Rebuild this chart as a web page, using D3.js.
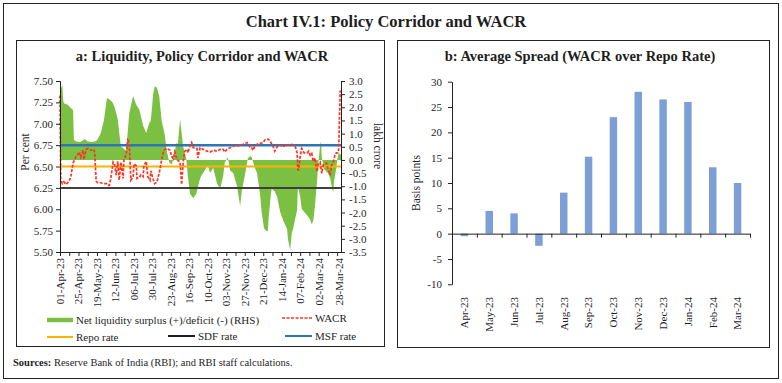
<!DOCTYPE html>
<html><head><meta charset="utf-8">
<script src="https://cdn.jsdelivr.net/npm/d3@7"></script>
<style>
html,body{margin:0;padding:0;background:#fff;}
svg text{font-family:"Liberation Serif","Times New Roman",serif;fill:#1e1e1e;}
</style></head>
<body>
<svg id="chart" width="782" height="383"></svg>
<script>
// ---------- DATA ----------
// Panel a: day offsets from 01-Apr-2023 and values
const liqDays = [0,3,4,5,10,14,17,18,21,26,30,32,36,42,47,49,53,57,61,64,68,71,75,79,83,86,90,95,99,103,108,112,116,118,121,123,126,129,132,136,139,142,145,148,151,153,156,160,164,166,169,173,177,181,183,188,192,195,199,204,208,212,214,218,221,225,230,234,236,240,244,247,249,253,256,260,262,265,268,270,271,274,275,279,282,286,290,295,296,299,301,303,305,308,309,312,314,321,325,327,329,331,334,335,338,339,340,343,348,351,353,355,356,359,360,362,365];
const liquidity = [2.6,2.87,2.3,2.15,2.1,1.97,1.9,0.77,0.7,0.68,0.75,0.8,0.7,0.68,0.72,0.8,1.02,1.5,2.35,2.3,2.2,2.0,1.55,0.51,0.42,0.35,1.78,2.43,2.1,1.92,1.3,1.02,1.4,1.5,2.5,2.8,2.74,2.4,1.5,0.97,0.3,-0.1,-0.17,0.1,0.64,0.6,1.55,0.5,0.05,-0.6,-1.3,-1.45,-1.3,-0.8,-0.63,-0.4,-0.2,-0.5,-0.3,-0.9,-1.1,-0.6,-0.1,0.1,-0.4,-0.5,-1.0,-1.75,-1.2,-0.6,0.05,0.15,0.1,-0.3,-0.5,-1.35,-2.0,-2.6,-2.7,-2.7,-2.2,-1.3,-1.1,-1.2,-1.4,-1.98,-2.3,-2.63,-3.0,-3.42,-2.8,-2.6,-2.3,-1.9,-1.0,-1.4,-1.87,-2.1,-2.27,-2.45,-2.3,-1.8,-0.75,-0.3,0.6,0.7,0.1,-0.35,-0.5,-0.7,-1.0,-1.25,-0.8,-0.3,0.0,0.25,0.2];

const wacrDays = [0,1,3,5,8,12,14,17,19,21,23,25,27,30,31,34,36,40,44,45,47,49,53,57,60,62,64,66,69,71,73,75,77,79,82,83,86,88,90,92,95,96,99,100,103,105,108,109,112,114,117,118,121,123,126,130,132,134,136,139,143,145,147,149,152,156,158,160,162,165,166,169,171,173,178,179,182,186,191,195,199,204,208,212,214,217,221,225,230,234,238,243,247,249,251,253,256,260,264,266,270,273,275,277,279,282,286,290,292,296,301,305,308,309,310,312,314,317,321,323,325,327,329,331,334,335,338,340,342,346,348,351,353,355,357,359,361,362,364];
const wacr = [7.33,6.35,6.30,6.32,6.29,6.33,6.38,6.54,6.58,6.62,6.64,6.67,6.61,6.69,6.58,6.70,6.71,6.69,6.70,6.66,6.33,6.31,6.31,6.30,6.30,6.28,6.28,6.36,6.55,6.52,6.40,6.56,6.34,6.55,6.36,6.58,6.64,6.81,6.78,6.34,6.38,6.53,6.51,6.36,6.37,6.40,6.38,6.51,6.56,6.38,6.34,6.45,6.35,6.30,6.32,6.47,6.58,6.66,6.70,6.71,6.69,6.62,6.59,6.67,6.58,6.55,6.29,6.55,6.68,6.70,6.66,6.74,6.78,6.72,6.71,6.60,6.72,6.70,6.68,6.67,6.69,6.68,6.70,6.70,6.67,6.70,6.72,6.74,6.74,6.75,6.76,6.78,6.72,6.72,6.69,6.74,6.76,6.77,6.78,6.81,6.82,6.80,6.76,6.73,6.68,6.73,6.75,6.73,6.75,6.75,6.76,6.75,6.66,6.46,6.46,6.62,6.71,6.66,6.66,6.68,6.63,6.65,6.56,6.60,6.44,6.52,6.55,6.42,6.52,6.54,6.48,6.40,6.52,6.55,6.63,6.66,6.66,6.70,7.39];

const policyDays = [0,365];
const repoRate = [6.50,6.50];
const sdfRate = [6.25,6.25];
const msfRate = [6.75,6.75];

const xTickDays = [0,24,48,72,96,120,144,168,192,216,240,264,288,312,336,362];
const xTickLabels = ["01-Apr-23","25-Apr-23","19-May-23","12-Jun-23","06-Jul-23","30-Jul-23","23-Aug-23","16-Sep-23","10-Oct-23","03-Nov-23","27-Nov-23","21-Dec-23","14-Jan-24","07-Feb-24","02-Mar-24","28-Mar-24"];
const leftTicks = [5.50,5.75,6.00,6.25,6.50,6.75,7.00,7.25,7.50];
const rightTicks = [-3.5,-3.0,-2.5,-2.0,-1.5,-1.0,-0.5,0.0,0.5,1.0,1.5,2.0,2.5,3.0];

// Panel b
const months = ["Apr-23","May-23","Jun-23","Jul-23","Aug-23","Sep-23","Oct-23","Nov-23","Dec-23","Jan-24","Feb-24","Mar-24"];
const spread = [-0.5,4.5,4.0,-2.4,8.1,15.2,23.0,28.0,26.5,26.0,13.1,10.0];
const spreadTicks = [-10,-5,0,5,10,15,20,25,30];

// ---------- DRAW ----------
const svg = d3.select("#chart");
const ink = "#222";
const toDate = d => new Date(2023, 3, 1 + d);

svg.append("rect").attr("x",3.5).attr("y",3.5).attr("width",775).attr("height",375)
  .attr("fill","none").attr("stroke",ink).attr("stroke-width",1);
svg.append("text").attr("x",386).attr("y",27).attr("text-anchor","middle")
  .style("font-size","16.5px").style("font-weight","bold").text("Chart IV.1: Policy Corridor and WACR");
svg.append("rect").attr("x",16.5).attr("y",40.5).attr("width",368).attr("height",306)
  .attr("fill","none").attr("stroke",ink);
svg.append("rect").attr("x",397.5).attr("y",40.5).attr("width",372).attr("height",307)
  .attr("fill","none").attr("stroke",ink);
const src = svg.append("text").attr("x",13).attr("y",366).style("font-size","10.5px");
src.append("tspan").style("font-weight","bold").text("Sources:");
src.append("tspan").text(" Reserve Bank of India (RBI); and RBI staff calculations.");

// ----- Panel a -----
const gA = svg.append("g");
gA.append("text").attr("x",202).attr("y",61).attr("text-anchor","middle")
  .style("font-size","14.5px").style("font-weight","bold").text("a: Liquidity, Policy Corridor and WACR");

const x = d3.scaleTime().domain([toDate(0), toDate(365)]).range([60, 341]);
const yL = d3.scaleLinear().domain([5.5, 7.5]).range([252, 81]);
const yR = d3.scaleLinear().domain([-3.5, 3.0]).range([252, 81]);

const liqData = liqDays.map((d,i)=>({date:toDate(d), v:liquidity[i]}));
gA.append("path").datum(liqData)
  .attr("fill","#7cc043")
  .attr("d", d3.area().x(d=>x(d.date)).y0(yR(0)).y1(d=>yR(d.v)));

const pline = d3.line().x(d=>x(d.date)).y(d=>yL(d.v));
function policy(arr, color, w){
  gA.append("path").datum(policyDays.map((d,i)=>({date:toDate(d), v:arr[i]})))
    .attr("fill","none").attr("stroke",color).attr("stroke-width",w).attr("d",pline);
}
policy(msfRate,"#2e75b6",2.5);
policy(repoRate,"#ffb300",2);
policy(sdfRate,"#404040",2);

const wData = wacrDays.map((d,i)=>({date:toDate(d), v:wacr[i]}));
gA.append("path").datum(wData).attr("fill","none").attr("stroke","#ff3322")
  .attr("stroke-width",1.7).attr("stroke-dasharray","3,1.5").attr("d",pline);

// axes
const axL = gA.append("g").attr("transform","translate(60,0)")
  .call(d3.axisLeft(yL).tickValues(leftTicks).tickFormat(d=>d.toFixed(2)).tickSize(4).tickPadding(3));
const axR = gA.append("g").attr("transform","translate(341,0)")
  .call(d3.axisRight(yR).tickValues(rightTicks).tickFormat(d=>d.toFixed(1)).tickSize(4).tickPadding(4));
const axB = gA.append("g").attr("transform","translate(0,252)")
  .call(d3.axisBottom(x).tickValues(d3.range(0,365,12).map(toDate)).tickFormat("").tickSize(4).tickSizeOuter(0));
gA.selectAll(".xl").data(xTickDays).enter().append("text")
  .attr("transform",(d)=>`translate(${x(toDate(d))},258) rotate(-90)`)
  .attr("text-anchor","end").attr("dy","0.35em").style("font-size","11px")
  .text((d,i)=>xTickLabels[i]);
[axL,axR,axB].forEach(a=>{
  a.selectAll("path,line").attr("stroke",ink);
  a.selectAll("text").style("font-size","11px").attr("fill","#1e1e1e").style("font-family",null);
  a.attr("font-family",null);
});
gA.append("text").attr("transform","translate(29,152) rotate(-90)").attr("text-anchor","middle")
  .style("font-size","11.5px").text("Per cent");
gA.append("text").attr("transform","translate(374,146) rotate(90)").attr("text-anchor","middle")
  .style("font-size","11.5px").text("lakh crore");

// legend
const lg = gA.append("g");
lg.append("line").attr("x1",47).attr("x2",73).attr("y1",320).attr("y2",320).attr("stroke","#7cc043").attr("stroke-width",4.5);
lg.append("text").attr("x",76).attr("y",324).style("font-size","11px").text("Net liquidity surplus (+)/deficit (-) (RHS)");
lg.append("line").attr("x1",282).attr("x2",312).attr("y1",318).attr("y2",318).attr("stroke","#ff3322").attr("stroke-width",1.7).attr("stroke-dasharray","3,1.5");
lg.append("text").attr("x",315).attr("y",322).style("font-size","11px").text("WACR");
lg.append("line").attr("x1",47).attr("x2",73).attr("y1",337).attr("y2",337).attr("stroke","#ffb300").attr("stroke-width",2);
lg.append("text").attr("x",76).attr("y",341).style("font-size","11px").text("Repo rate");
lg.append("line").attr("x1",168).attr("x2",195).attr("y1",336).attr("y2",336).attr("stroke","#1e1e1e").attr("stroke-width",2);
lg.append("text").attr("x",198).attr("y",340).style("font-size","11px").text("SDF rate");
lg.append("line").attr("x1",285).attr("x2",312).attr("y1",336).attr("y2",336).attr("stroke","#2e75b6").attr("stroke-width",2);
lg.append("text").attr("x",315).attr("y",340).style("font-size","11px").text("MSF rate");

// ----- Panel b -----
const gB = svg.append("g");
gB.append("text").attr("x",580).attr("y",61).attr("text-anchor","middle")
  .style("font-size","14.5px").style("font-weight","bold").text("b: Average Spread (WACR over Repo Rate)");
const xb = d3.scaleBand().domain(months).range([452,750]).paddingInner(0.7).paddingOuter(0.35);
const yb = d3.scaleLinear().domain([-10,30]).range([284.3,81.7]);
gB.selectAll("rect.bar").data(months).enter().append("rect").attr("class","bar")
  .attr("x",m=>xb(m)).attr("width",xb.bandwidth())
  .attr("y",(m,i)=>yb(Math.max(0,spread[i])))
  .attr("height",(m,i)=>Math.abs(yb(spread[i])-yb(0)))
  .attr("fill","#7d9fd7");
const ayb = gB.append("g").attr("transform","translate(452,0)")
  .call(d3.axisLeft(yb).tickValues(spreadTicks).tickFormat(d=>String(d)).tickSize(4).tickPadding(6).tickSizeOuter(0));
const bx = d3.scaleLinear().domain([0,12]).range([452,750]);
const axb = gB.append("g").attr("transform",`translate(0,${yb(0)})`)
  .call(d3.axisBottom(bx).tickValues(d3.range(0,13)).tickFormat("").tickSize(4).tickSizeOuter(0));
gB.selectAll(".ml").data(months).enter().append("text")
  .attr("transform",m=>`translate(${xb(m)+xb.bandwidth()/2},297) rotate(-90)`)
  .attr("text-anchor","end").attr("dy","0.35em").style("font-size","11px").text(m=>m);
[ayb,axb].forEach(a=>{
  a.selectAll("path,line").attr("stroke",ink);
  a.selectAll("text").style("font-size","11px").attr("fill","#1e1e1e");
  a.attr("font-family",null);
});
gB.append("text").attr("transform","translate(420,183) rotate(-90)").attr("text-anchor","middle")
  .style("font-size","11.5px").text("Basis points");
</script>
</body></html>
